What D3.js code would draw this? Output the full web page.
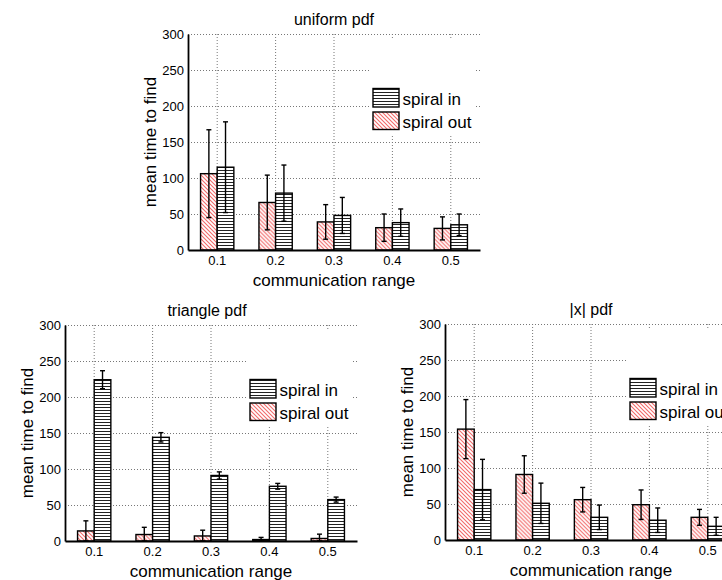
<!DOCTYPE html>
<html>
<head>
<meta charset="UTF-8">
<style>
  body { margin: 0; background: #fff; }
  svg { display: block; font-family: "Liberation Sans", Arial, Helvetica, sans-serif; }
  .grid line { stroke: #777; stroke-dasharray: 1,2; }
  .grid .domain { display: none; }
</style>
</head>
<body>
<svg></svg>
<script src="https://d3js.org/d3.v7.min.js"></script>
<script>
let width = 722, height = 580;

// data
const ranges = ["0.1", "0.2", "0.3", "0.4", "0.5"];
const yTicks = [0, 50, 100, 150, 200, 250, 300];
const seriesNames = ["spiral in", "spiral out"];

const uniformOut    = [106, 66, 39, 31, 30];
const uniformOutErr = [61, 38, 24, 19, 16];
const uniformIn     = [115, 79, 48, 38, 35];
const uniformInErr  = [63, 39, 25, 19, 15];

const triangleOut    = [14, 9, 7, 2, 3.5];
const triangleOutErr = [14, 10, 8, 3, 6];
const triangleIn     = [224, 144, 91, 76, 57.5];
const triangleInErr  = [12.5, 6.5, 5, 4, 3.5];

const absOut    = [154, 91, 56, 49, 31.5];
const absOutErr = [41, 26, 17, 20.5, 11];
const absIn     = [70, 51, 31.5, 27.5, 19];
const absInErr  = [42, 28, 17, 17, 12.5];

// panel placement
const panels = [
  {title: "uniform pdf", left: 188, top: 34, titleX: 334, out: uniformOut, outErr: uniformOutErr, inn: uniformIn, innErr: uniformInErr},
  {title: "triangle pdf", left: 65, top: 325, titleX: 207, out: triangleOut, outErr: triangleOutErr, inn: triangleIn, innErr: triangleInErr},
  {title: "|x| pdf", left: 445, top: 324, titleX: 591, out: absOut, outErr: absOutErr, inn: absIn, innErr: absInErr}
];
const pw = 292, ph = 216;

let svg = d3.select("svg")
    .attr("width", width)
    .attr("height", height)
    .attr("viewBox", "0 0 " + width + " " + height);

// hatch patterns
let defs = svg.append("defs");
let pOut = defs.append("pattern")
    .attr("id", "hatchOut")
    .attr("patternUnits", "userSpaceOnUse")
    .attr("width", 4).attr("height", 4);
pOut.append("rect").attr("width", 4).attr("height", 4).attr("fill", "#fff");
pOut.append("path")
    .attr("d", "M-1,-1L5,5M-1,3L1,5M3,-1L5,1")
    .attr("stroke", "#f26b6b").attr("stroke-width", 1.1);

let pIn = defs.append("pattern")
    .attr("id", "hatchIn")
    .attr("patternUnits", "userSpaceOnUse")
    .attr("width", 4).attr("height", 3);
pIn.append("rect").attr("width", 4).attr("height", 3).attr("fill", "#fff");
pIn.append("line")
    .attr("x1", 0).attr("x2", 4).attr("y1", 1.5).attr("y2", 1.5)
    .attr("stroke", "#222").attr("stroke-width", 1);

panels.forEach(p => {
    let g = svg.append("g").attr("transform", `translate(${p.left},${p.top})`);

    let x = d3.scaleBand().domain(ranges).range([0, pw]);
    let bw = x.bandwidth();
    let x1 = d3.scaleBand().domain(["out", "in"]).range([bw / 2 - 0.285 * bw, bw / 2 + 0.285 * bw]);
    let y = d3.scaleLinear().domain([0, 300]).range([ph, 0]);

    // grid
    g.append("g").attr("class", "grid")
        .call(d3.axisLeft(y).tickValues(yTicks.slice(1)).tickSize(-pw).tickFormat(""));
    g.append("g").attr("class", "grid")
        .attr("transform", `translate(${bw / 2},0)`)
        .call(d3.axisTop(x).tickSize(-ph).tickFormat(""))
        .attr("transform", `translate(0,0)`);

    // legend background
    g.append("rect")
        .attr("x", 181).attr("y", 4)
        .attr("width", 107).attr("height", 96)
        .attr("fill", "#fff");

    let rows = ranges.map((r, i) => ({
        r: r,
        bars: [
            {k: "out", v: p.out[i], e: p.outErr[i]},
            {k: "in", v: p.inn[i], e: p.innErr[i]}
        ]
    }));

    let grp = g.selectAll(".grp").data(rows).enter().append("g")
        .attr("transform", d => `translate(${x(d.r)},0)`);

    grp.selectAll("rect").data(d => d.bars).enter().append("rect")
        .attr("x", d => x1(d.k))
        .attr("width", x1.bandwidth())
        .attr("y", d => y(d.v))
        .attr("height", d => ph - y(d.v))
        .attr("fill", d => d.k == "out" ? "url(#hatchOut)" : "url(#hatchIn)")
        .attr("stroke", "#000")
        .attr("stroke-width", 1.4);

    // error bars
    let eb = grp.selectAll(".eb").data(d => d.bars).enter().append("g")
        .attr("stroke", "#000").attr("stroke-width", 1.4);
    let cx = d => x1(d.k) + x1.bandwidth() / 2;
    eb.append("line")
        .attr("x1", cx).attr("x2", cx)
        .attr("y1", d => y(d.v + d.e))
        .attr("y2", d => y(Math.max(0, d.v - d.e)));
    eb.append("line")
        .attr("x1", d => cx(d) - 2.5).attr("x2", d => cx(d) + 2.5)
        .attr("y1", d => y(d.v + d.e)).attr("y2", d => y(d.v + d.e));
    eb.append("line")
        .attr("x1", d => cx(d) - 2.5).attr("x2", d => cx(d) + 2.5)
        .attr("y1", d => y(Math.max(0, d.v - d.e))).attr("y2", d => y(Math.max(0, d.v - d.e)));

    // axes
    let yAxis = g.append("g")
        .call(d3.axisLeft(y).tickValues(yTicks).tickSize(0).tickPadding(4));
    let xAxis = g.append("g")
        .attr("transform", `translate(0,${ph})`)
        .call(d3.axisBottom(x).tickSize(0).tickPadding(6));
    [yAxis, xAxis].forEach(a => {
        a.select(".domain").attr("stroke", "#000").attr("stroke-width", 1.8);
        a.selectAll("text").attr("font-size", 13).attr("fill", "#000")
            .style("font-family", "'Liberation Sans', Arial, sans-serif");
    });

    // legend
    let leg = g.append("g");
    [{k: "in", y: 54.5, h: 18.5}, {k: "out", y: 78, h: 17.5}].forEach((d, i) => {
        leg.append("rect")
            .attr("x", 185).attr("y", d.y)
            .attr("width", 26).attr("height", d.h)
            .attr("fill", d.k == "out" ? "url(#hatchOut)" : "url(#hatchIn)")
            .attr("stroke", "#000").attr("stroke-width", 1.4);
        leg.append("text")
            .attr("x", 214.5).attr("y", d.y + d.h - 2)
            .attr("font-size", 17)
            .text(seriesNames[i]);
    });

    // titles and labels
    svg.append("text")
        .attr("x", p.titleX).attr("y", p.top - 9)
        .attr("text-anchor", "middle")
        .attr("font-size", 16)
        .text(p.title);
    svg.append("text")
        .attr("x", p.left + pw / 2).attr("y", p.top + ph + 36)
        .attr("text-anchor", "middle")
        .attr("font-size", 17)
        .text("communication range");
    svg.append("text")
        .attr("transform", `translate(${p.left - 32},${p.top + ph / 2}) rotate(-90)`)
        .attr("text-anchor", "middle")
        .attr("font-size", 17)
        .text("mean time to find");
});
</script>
</body>
</html>
